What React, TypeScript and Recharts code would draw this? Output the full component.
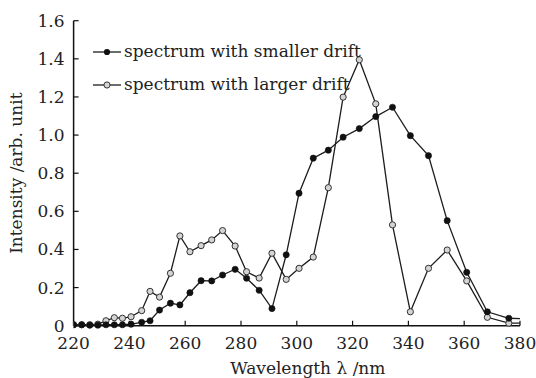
import React from 'react';
import { LineChart, Line, XAxis, YAxis, Legend } from 'recharts';

// Wavelength sample positions (nm); the last one sits just past the axis end
const wavelengths = [
  220, 222.9, 225.8, 228.7, 231.6, 234.6, 237.5, 240.6, 244.4, 247.4, 250.8, 254.7,
  258.1, 261.7, 265.7, 269.5, 273.4, 277.9, 282, 286.5, 291.1, 296.2, 300.8, 305.9,
  311.3, 316.6, 322.4, 328.3, 334.3, 340.7, 347.2, 353.9, 360.9, 368.3, 376, 384,
];

const smallerDrift = [
  0.005, 0.005, 0.003, 0.003, 0.005, 0.005, 0.005, 0.008, 0.018, 0.026, 0.082, 0.118,
  0.109, 0.173, 0.236, 0.235, 0.266, 0.296, 0.249, 0.186, 0.09, 0.372, 0.695, 0.879,
  0.921, 0.989, 1.034, 1.097, 1.146, 0.997, 0.892, 0.551, 0.28, 0.073, 0.039, 0.036,
];

const largerDrift = [
  0.005, 0.005, 0.005, 0.008, 0.026, 0.042, 0.039, 0.047, 0.079, 0.18, 0.15, 0.275,
  0.471, 0.388, 0.42, 0.45, 0.499, 0.418, 0.283, 0.25, 0.38, 0.243, 0.301, 0.36,
  0.724, 1.199, 1.395, 1.164, 0.529, 0.073, 0.301, 0.397, 0.235, 0.044, 0.013, 0.014,
];

const xTicks = [220, 240, 260, 280, 300, 320, 340, 360, 380];
const yTicks = [0, 0.2, 0.4, 0.6, 0.8, 1.0, 1.2, 1.4, 1.6];

const seriesNames = ['spectrum with smaller drift', 'spectrum with larger drift'];

const data = wavelengths.map((w, i) => ({
  wl: w,
  small: smallerDrift[i],
  large: largerDrift[i],
}));

const FONT = '"DejaVu Serif", "Liberation Serif", serif';
const FS = 17;
const INK = '#1c1c1c';

const SolidDot = (props: any) => {
  const { cx, cy } = props;
  if (cx == null || cy == null) return null;
  return <circle cx={cx} cy={cy} r={3.1} fill="#111" stroke="#111" strokeWidth={0.6} />;
};

const HollowDot = (props: any) => {
  const { cx, cy } = props;
  if (cx == null || cy == null) return null;
  return <circle cx={cx} cy={cy} r={3.1} fill="#d4d4d4" stroke="#333" strokeWidth={1} />;
};

const LegendBox = () => (
  <div style={{ fontFamily: FONT, fontSize: FS, color: '#222', lineHeight: '33px' }}>
    {seriesNames.map((name, i) => (
      <div key={name} style={{ display: 'flex', alignItems: 'center', height: 33 }}>
        <svg width={30} height={12} style={{ marginRight: 1 }}>
          <line x1={0} y1={6} x2={28} y2={6} stroke={INK} strokeWidth={1.3} />
          {i === 0 ? (
            <circle cx={14} cy={6} r={3.1} fill="#111" />
          ) : (
            <circle cx={14} cy={6} r={3.1} fill="#d4d4d4" stroke="#333" strokeWidth={1} />
          )}
        </svg>
        <span style={{ whiteSpace: 'nowrap' }}>{name}</span>
      </div>
    ))}
  </div>
);

const fmtY = (v: number) => (v === 0 ? '0' : v.toFixed(1));

export default function App() {
  return (
    <div style={{ position: 'absolute', left: 0, top: 0, width: 536, height: 378, background: '#fff' }}>
      <LineChart
        width={536}
        height={378}
        data={data}
        margin={{ top: 20.7, right: 16, bottom: 0, left: 0 }}
      >
        <XAxis
          dataKey="wl"
          type="number"
          domain={[220, 380]}
          allowDataOverflow
          ticks={xTicks}
          height={52.3}
          tickSize={-5}
          tickMargin={16}
          axisLine={{ stroke: '#111', strokeWidth: 1.5 }}
          tickLine={{ stroke: '#111', strokeWidth: 1.2 }}
          tick={{ fill: '#222', fontSize: FS, fontFamily: FONT }}
          label={{
            value: 'Wavelength λ /nm',
            position: 'insideBottom',
            offset: 4,
            dx: 11,
            fill: '#222',
            fontSize: FS,
            fontFamily: FONT,
          }}
        />
        <XAxis
          xAxisId="top"
          orientation="top"
          dataKey="wl"
          type="number"
          domain={[220, 380]}
          height={0}
          tick={false}
          tickLine={false}
          axisLine={{ stroke: '#111', strokeWidth: 1.5 }}
        />
        <YAxis
          type="number"
          domain={[0, 1.6]}
          ticks={yTicks}
          width={73.6}
          tickSize={-5}
          tickMargin={14}
          tickFormatter={fmtY}
          axisLine={{ stroke: '#111', strokeWidth: 1.5 }}
          tickLine={{ stroke: '#111', strokeWidth: 1.2 }}
          tick={{ fill: '#222', fontSize: FS, fontFamily: FONT }}
          label={{
            value: 'Intensity /arb. unit',
            angle: -90,
            position: 'insideLeft',
            offset: 16,
            dy: 0,
            fill: '#222',
            fontSize: FS,
            fontFamily: FONT,
            style: { textAnchor: 'middle' },
          }}
        />
        <YAxis
          yAxisId="right"
          orientation="right"
          type="number"
          domain={[0, 1.6]}
          width={0}
          tick={false}
          tickLine={false}
          axisLine={{ stroke: '#111', strokeWidth: 1.5 }}
        />
        <Legend
          verticalAlign="middle"
          align="center"
          content={<LegendBox />}
          wrapperStyle={{ left: 93, top: 35, width: 320, height: 70 }}
        />
        <Line
          dataKey="large"
          name={seriesNames[1]}
          stroke={INK}
          strokeWidth={1.3}
          dot={<HollowDot />}
          activeDot={false}
          isAnimationActive={false}
        />
        <Line
          dataKey="small"
          name={seriesNames[0]}
          stroke={INK}
          strokeWidth={1.3}
          dot={<SolidDot />}
          activeDot={false}
          isAnimationActive={false}
        />
      </LineChart>
    </div>
  );
}
